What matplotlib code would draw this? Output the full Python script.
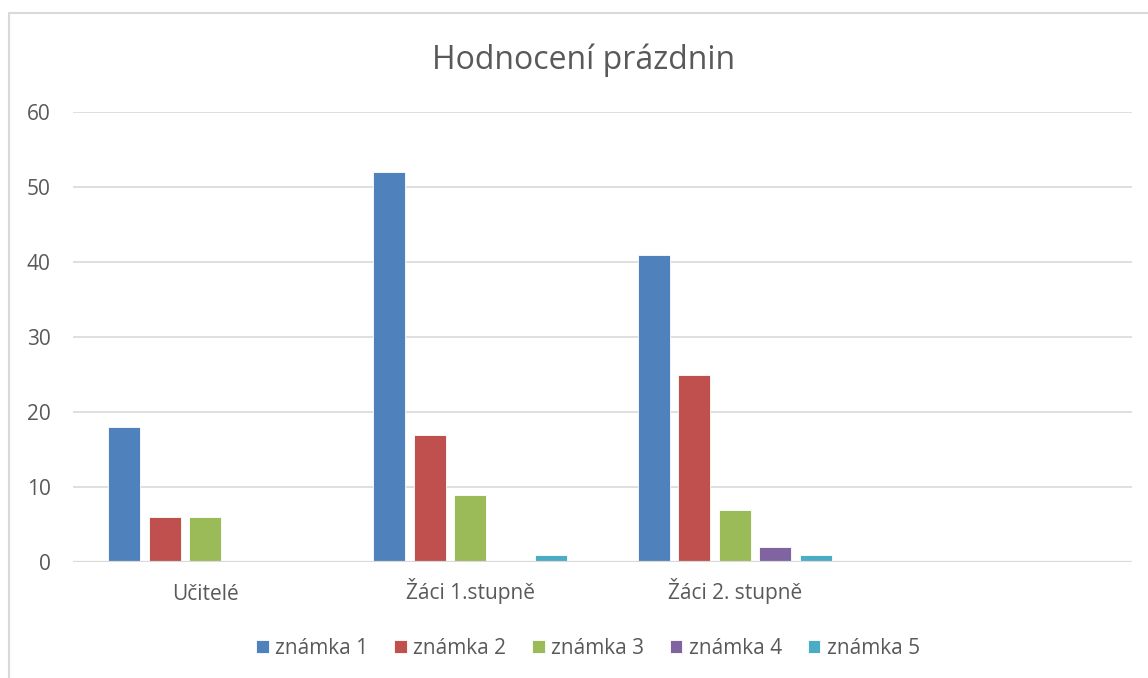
import numpy as np
import matplotlib
matplotlib.use("Agg")
import matplotlib.pyplot as plt
from matplotlib.patches import Rectangle

# data
categories = ["Učitelé", "Žáci 1.stupně", "Žáci 2. stupně", ""]
series_names = ["známka 1", "známka 2", "známka 3", "známka 4", "známka 5"]
znamka1 = [18, 52, 41, 0]
znamka2 = [6, 17, 25, 0]
znamka3 = [6, 9, 7, 0]
znamka4 = [0, 0, 2, 0]
znamka5 = [0, 1, 1, 0]
values = [znamka1, znamka2, znamka3, znamka4, znamka5]
colors = ["#4F81BD", "#C0504D", "#9BBB59", "#8064A2", "#4BACC6"]

plt.rcParams['font.family'] = ['Open Sans', 'DejaVu Sans']
text_col = "#595959"

W, H = 1148, 678
fig = plt.figure(figsize=(W / 100, H / 100), dpi=100)

# outer chart frame (cropped at right/bottom)
fig.patches.append(Rectangle((8.5 / W, -0.1), 1.2, 1 - 12.5 / H + 0.1,
                             transform=fig.transFigure, fill=False,
                             edgecolor="#d9d9d9", linewidth=1.5))

ax = fig.add_axes([73 / W, 116 / H, (1132 - 73) / W, 450 / H])

x = np.arange(len(categories))
bw = 32 / 264.75
step = 40.6 / 264.75
for j, (name, vals) in enumerate(zip(series_names, values)):
    ax.bar(x + (j - 2) * step, vals, width=bw, color=colors[j], label=name,
           edgecolor="white", linewidth=0.6, zorder=3)

ax.set_xlim(-0.5, len(categories) - 0.5)
ax.set_ylim(0, 60)
ax.set_yticks(range(0, 61, 10))
ax.set_xticks(x)
ax.set_xticklabels(categories)
ax.grid(axis="y", color="#d9d9d9", linewidth=1.2, zorder=0)
ax.axhline(0, color="#d9d9d9", linewidth=1.6, zorder=4)
for s in ax.spines.values():
    s.set_visible(False)
ax.tick_params(axis="y", length=0, pad=16, labelsize=15, labelcolor=text_col)
ax.tick_params(axis="x", length=0, pad=27, labelsize=15, labelcolor=text_col)
for lbl in ax.get_xticklabels():
    lbl.set_va("baseline")

fig.text(584 / W, 1 - 69 / H, "Hodnocení prázdnin", ha="center", va="baseline",
         fontsize=23, color=text_col)

leg = fig.legend(loc="center", bbox_to_anchor=(588 / W, 1 - 648 / H), ncol=5,
                 frameon=False, fontsize=15, handlelength=0.6, handleheight=0.6,
                 handletextpad=0.3, columnspacing=1.25, labelcolor=text_col)

fig.savefig("out.png", dpi=100)
